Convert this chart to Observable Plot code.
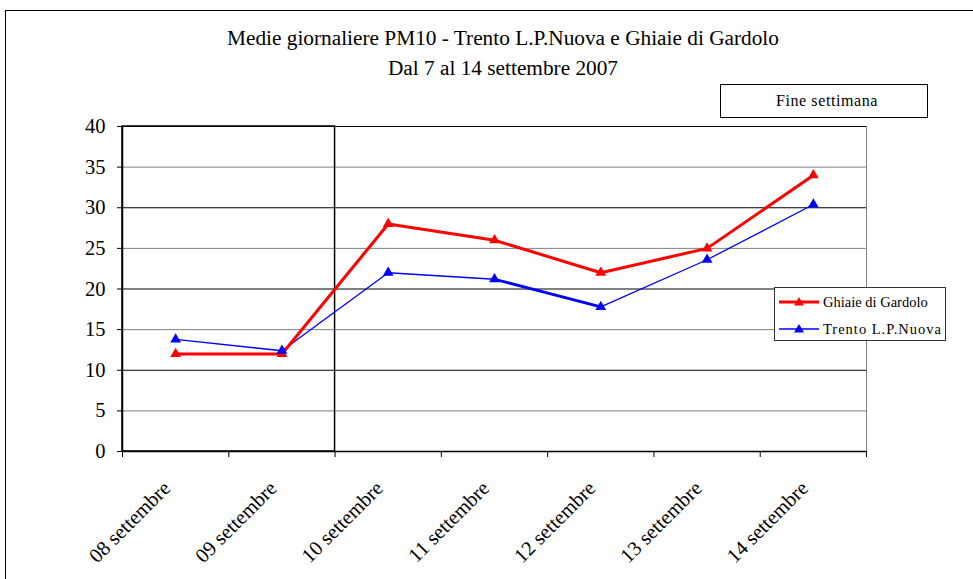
<!DOCTYPE html>
<html>
<head>
<meta charset="utf-8">
<script src="https://cdn.jsdelivr.net/npm/d3@7"></script>
<script src="https://cdn.jsdelivr.net/npm/@observablehq/plot@0.6"></script>
<style>
  html, body { margin: 0; padding: 0; background: #fff; overflow: hidden; }
  #wrap { position: relative; width: 973px; height: 579px; overflow: hidden; font-family: "Liberation Serif", serif; }
  #frame { position: absolute; left: 5px; top: 10px; width: 1100px; height: 700px; border: 1.5px solid #000; box-sizing: border-box; }
  #chart { position: absolute; left: 0; top: 0; }
  #chart svg, #chart svg text { font-family: "Liberation Serif", serif !important; }
  .title { position: absolute; left: 0; width: 1006px; text-align: center; font-size: 21.3px; color: #000; white-space: nowrap; }
  #fine { position: absolute; left: 720px; top: 84px; width: 208px; height: 34px; border: 1px solid #000; box-sizing: border-box; background: #fff; font-size: 16px; letter-spacing: 0.6px; text-align: center; line-height: 32px; padding-left: 6px; }
  #legend { position: absolute; left: 774px; top: 287px; width: 172px; height: 54px; border: 1px solid #333; box-sizing: border-box; background: #fff; font-size: 14.5px; }
  .row { position: absolute; left: 3px; height: 20px; display: flex; align-items: center; white-space: nowrap; }
  .row svg { margin-right: 3px; }
</style>
</head>
<body>
<div id="wrap">
  <div id="frame"></div>
  <div id="chart"></div>
  <div class="title" style="top:26px">Medie giornaliere PM10 - Trento L.P.Nuova e Ghiaie di Gardolo</div>
  <div class="title" style="top:56px">Dal 7 al 14 settembre 2007</div>
  <div id="fine">Fine settimana</div>
  <div id="legend"></div>
</div>
<script>
const days = ["08 settembre","09 settembre","10 settembre","11 settembre","12 settembre","13 settembre","14 settembre"];
const ghiaie = [12, 12, 28, 26, 22, 25, 34];
const trento = [13.8, 12.4, 22, 21.2, 17.8, 23.6, 30.4];
const weekendDays = ["08 settembre","09 settembre"];
const trentoBoldDays = ["11 settembre","12 settembre"];
const seriesNames = ["Ghiaie di Gardolo","Trento L.P.Nuova"];
const seriesColors = ["#ff0000","#0000ff"];
const yTicks = [0,5,10,15,20,25,30,35,40];

const idx = d => days.indexOf(d);
const ghiaieData = days.map((d,i)=>({day:d, x: i+0.5, v: ghiaie[i]}));
const trentoData = days.map((d,i)=>({day:d, x: i+0.5, v: trento[i]}));
const trentoBold = trentoData.filter(d => trentoBoldDays.includes(d.day));
const boundaries = d3.range(days.length + 1);
const wk = [{x1: idx(weekendDays[0]), x2: idx(weekendDays[weekendDays.length-1]) + 1}];
const serif = "'Liberation Serif', serif";

const chart = Plot.plot({
  width: 973,
  height: 579,
  marginLeft: 122,
  marginRight: 107,
  marginTop: 126,
  marginBottom: 128,
  style: {fontFamily: serif, background: "transparent", color: "#000"},
  x: {domain: [0, days.length], axis: null},
  y: {domain: [0, 40], axis: null},
  marks: [
    Plot.ruleY(yTicks.filter(t => t > 0), {y: d => d, stroke: d => d % 10 === 0 ? "#000" : "#808080", strokeWidth: 1}),
    Plot.ruleX([days.length], {stroke: "#808080", strokeWidth: 1}),
    Plot.rect(wk, {x1: "x1", x2: "x2", y1: 0, y2: 40, fill: "none", stroke: "#000", strokeWidth: 1.5}),
    Plot.ruleX([0], {stroke: "#000", strokeWidth: 1.5}),
    Plot.ruleY([0], {stroke: "#000", strokeWidth: 1.5}),
    Plot.axisY({ticks: yTicks, label: null, tickSize: 5, tickPadding: 12, fontSize: 20.5, fontFamily: serif, tickFormat: d => String(d), stroke: "#000"}),
    Plot.axisX({ticks: boundaries, label: null, tickSize: 6, tickFormat: () => "", stroke: "#000"}),
    Plot.text(days, {x: (d,i) => i + 0.5, y: 0, text: d => d, rotate: -45, textAnchor: "end", lineAnchor: "bottom", dy: 38, dx: -4, fontSize: 20.5, fontFamily: serif, fill: "#000"}),
    Plot.line(trentoData, {x: "x", y: "v", stroke: seriesColors[1], strokeWidth: 1.3}),
    Plot.line(trentoBold, {x: "x", y: "v", stroke: seriesColors[1], strokeWidth: 2.8}),
    Plot.line(ghiaieData, {x: "x", y: "v", stroke: seriesColors[0], strokeWidth: 3}),
    Plot.dot(ghiaieData, {x: "x", y: "v", symbol: "triangle", r: 4, fill: seriesColors[0], stroke: "none"}),
    Plot.dot(trentoData, {x: "x", y: "v", symbol: "triangle", r: 4, fill: seriesColors[1], stroke: "none"})
  ]
});
document.getElementById("chart").appendChild(chart);

const legend = document.getElementById("legend");
const rowsTop = [4, 31];
const widths = [3, 1.3];
seriesNames.forEach((name, i) => {
  const row = document.createElement("div");
  row.className = "row";
  row.style.top = rowsTop[i] + "px";
  row.innerHTML = `<svg width="42" height="20"><line x1="1" y1="10" x2="41" y2="10" stroke="${seriesColors[i]}" stroke-width="${widths[i]}"/><path d="M21,5 L26,13.5 L16,13.5 Z" fill="${seriesColors[i]}"/></svg><span style="letter-spacing:${i===1?1.0:0}px">${name}</span>`;
  legend.appendChild(row);
});
</script>
</body>
</html>
